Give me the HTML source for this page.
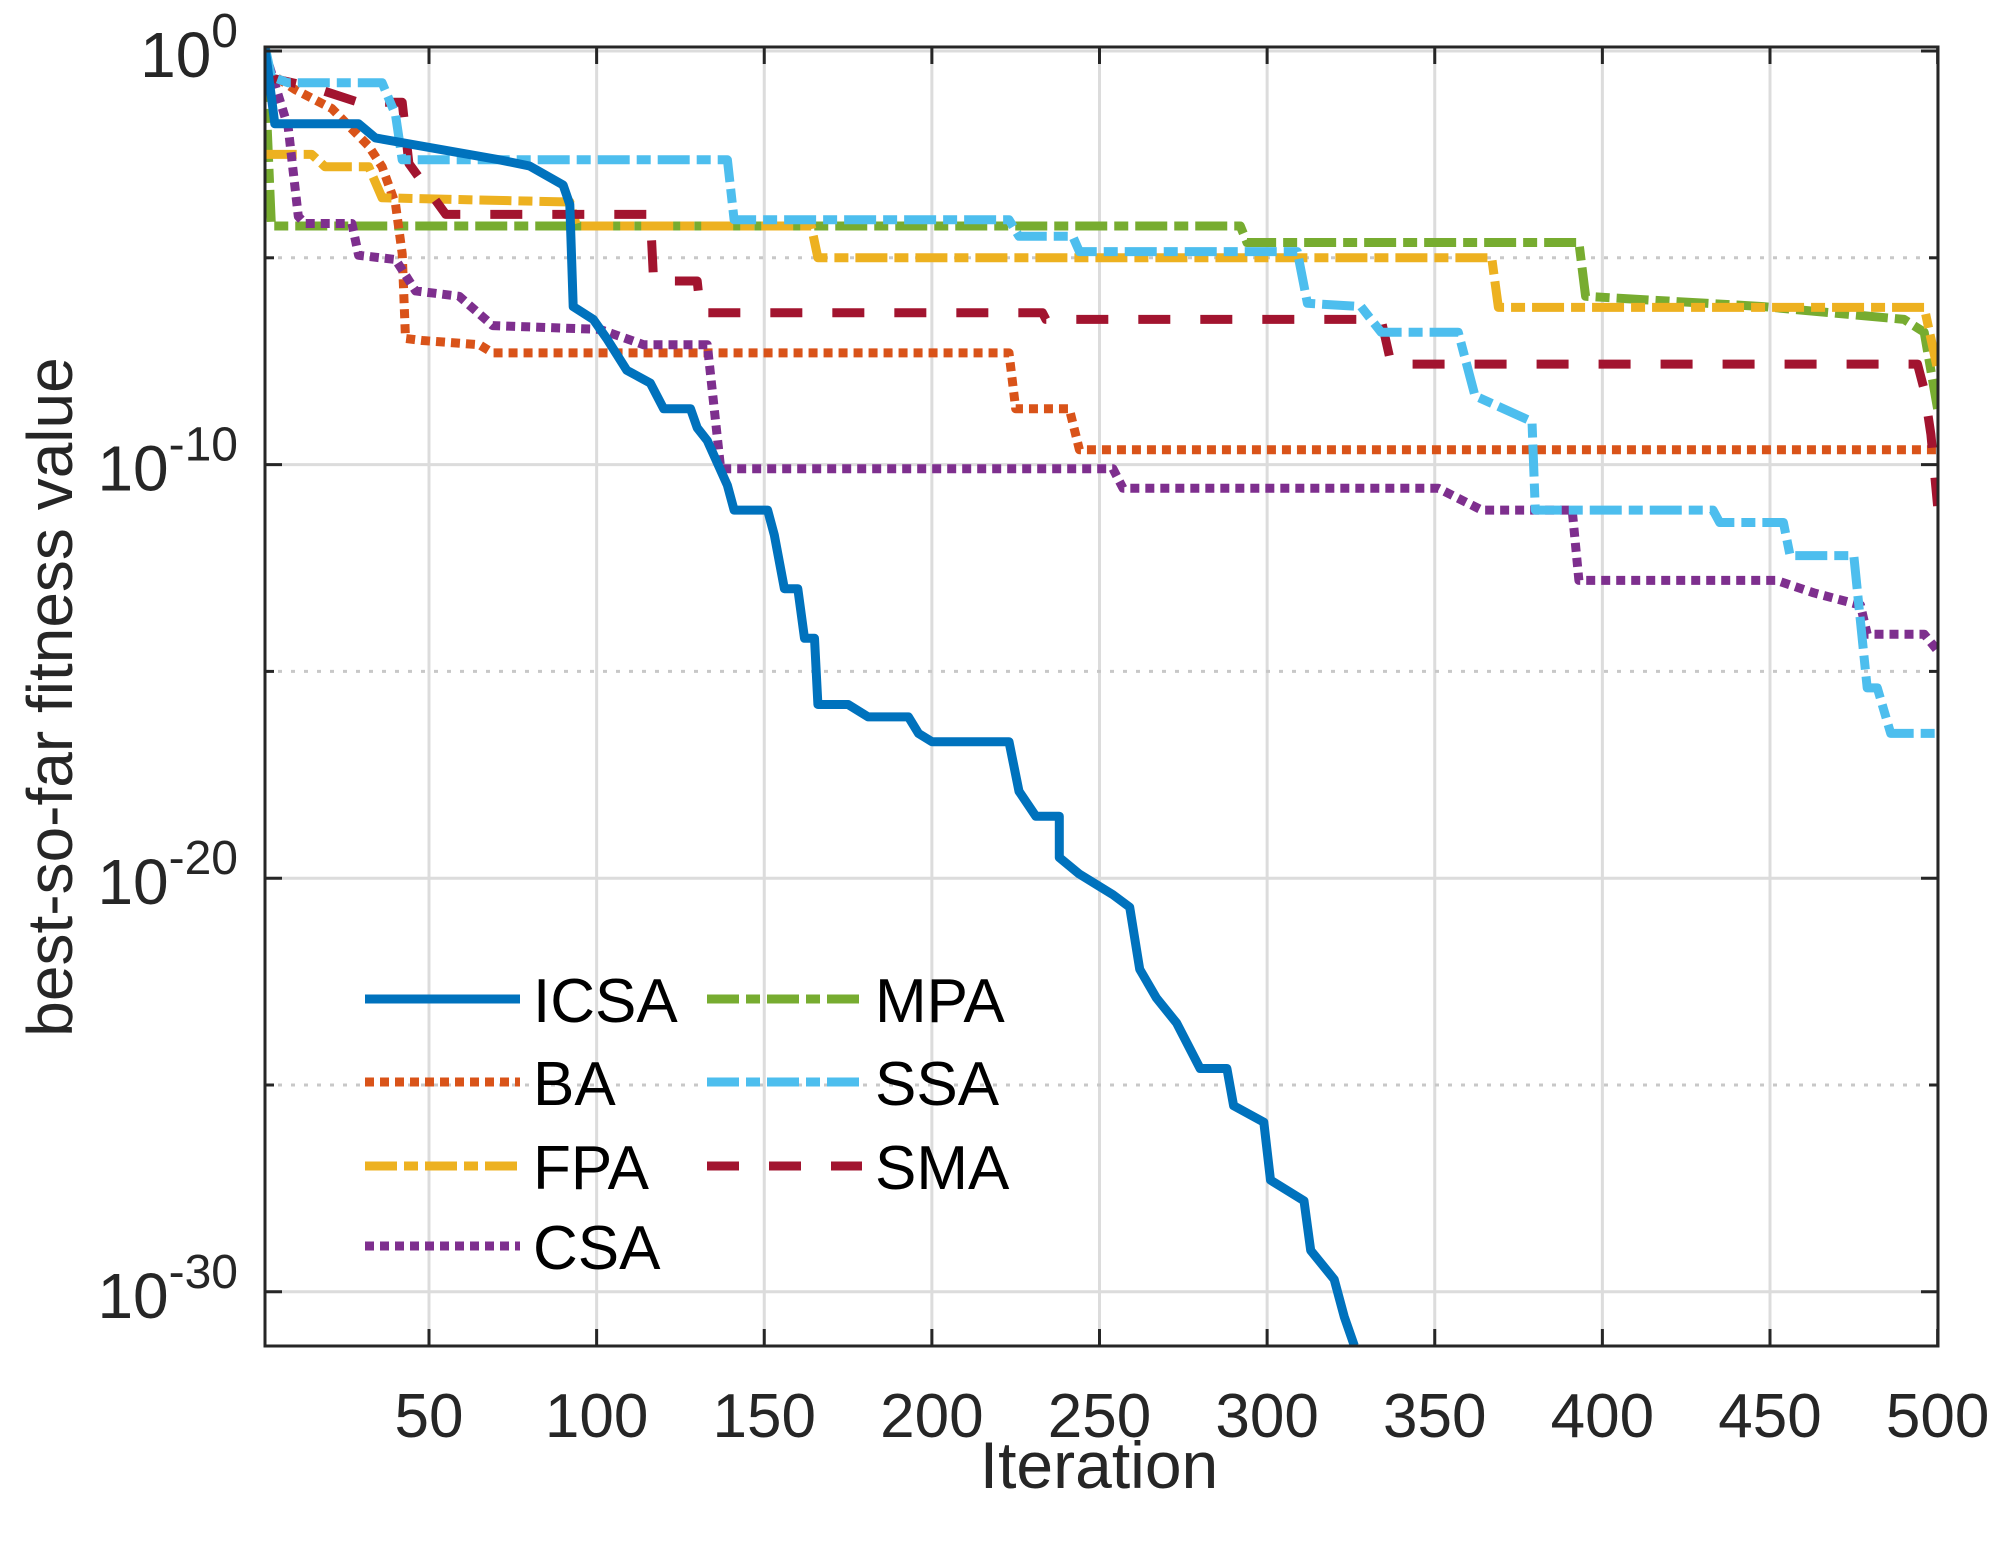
<!DOCTYPE html>
<html><head><meta charset="utf-8"><style>
html,body{margin:0;padding:0;background:#fff;}
svg{display:block;font-family:"Liberation Sans",Arial,sans-serif;}
</style></head><body>
<svg id="chart" width="2004" height="1548" viewBox="0 0 2004 1548" xmlns="http://www.w3.org/2000/svg">
<defs><clipPath id="clip"><rect x="265" y="47" width="1673" height="1299"/></clipPath></defs>
<rect x="0" y="0" width="2004" height="1548" fill="#fff"/>
<g id="grid"></g>
<g id="series" clip-path="url(#clip)"></g>
<g id="axes"></g>
<g id="legend"></g>
</svg>
<script>
const xTicks=[50,100,150,200,250,300,350,400,450,500];
const yMajor=[0,-10,-20,-30];
const yMinor=[-5,-15,-25];
const icsaIter=[1,4,29,34,71,80,90,92,93,99,103,109,116,120,128,130,133,139,141,151,153,156,160,162,165,166,175,181,193,196,200,223,226,231,238,238,244,254,259,262,267,273,280,288,290,299,301,311,313,320,323,326];
const icsaLog=[0.15,-1.76,-1.76,-2.1,-2.63,-2.78,-3.24,-3.71,-6.18,-6.49,-6.95,-7.72,-8.03,-8.65,-8.65,-9.11,-9.42,-10.5,-11.1,-11.1,-11.7,-13.0,-13.0,-14.2,-14.2,-15.8,-15.8,-16.1,-16.1,-16.5,-16.7,-16.7,-17.9,-18.5,-18.5,-19.5,-19.9,-20.4,-20.7,-22.2,-22.9,-23.5,-24.6,-24.6,-25.5,-25.9,-27.3,-27.8,-29.0,-29.7,-30.6,-31.3];
const baIter=[1,10,21,32,36,40,42,43,48,65,69,223,225,241,244,500];
const baLog=[-0.46,-0.93,-1.39,-2.3,-2.8,-3.7,-4.9,-6.95,-7.0,-7.1,-7.3,-7.3,-8.65,-8.65,-9.64,-9.64];
const fpaIter=[1,15,19,32,36,92,94,164,166,367,369,496,500];
const fpaLog=[-2.5,-2.5,-2.8,-2.8,-3.55,-3.65,-4.23,-4.23,-5.0,-5.0,-6.2,-6.2,-7.7];
const mpaIter=[1,3,292,294,393,395,448,490,496,500];
const mpaLog=[-0.46,-4.23,-4.23,-4.63,-4.63,-5.93,-6.18,-6.49,-6.8,-8.65];
const ssaIter=[1,3,8,36,40,42,139,141,223,226,242,244,309,312,328,334,357,362,379,380,433,435,454,456,475,479,482,486,500];
const ssaLog=[0.15,-0.62,-0.77,-0.77,-1.54,-2.63,-2.63,-4.08,-4.08,-4.48,-4.48,-4.85,-4.85,-6.1,-6.18,-6.8,-6.8,-8.34,-8.96,-11.1,-11.1,-11.4,-11.4,-12.2,-12.2,-15.4,-15.4,-16.5,-16.5];
const smaIter=[1,15,29,42,44,55,116,117,130,131,233,234,334,337,494,496,498,500];
const smaLog=[-0.62,-0.87,-1.24,-1.24,-2.72,-3.95,-3.95,-5.56,-5.56,-6.33,-6.33,-6.49,-6.49,-7.57,-7.57,-8.19,-9.27,-11.0];
const csaIter=[1,8,11,13,27,29,40,46,59,69,101,114,133,137,254,257,351,364,391,393,452,463,477,479,496,500];
const csaLog=[0,-1.85,-4.0,-4.17,-4.17,-4.94,-5.04,-5.8,-5.93,-6.64,-6.73,-7.1,-7.1,-10.1,-10.1,-10.57,-10.57,-11.1,-11.1,-12.8,-12.8,-13.1,-13.4,-14.1,-14.1,-14.5];

const NS="http://www.w3.org/2000/svg";
const L=265,R=1938,T=47,B=1346;
function xs(v){return 429+(v-50)*3.3525;}
function ys(e){return 51-41.36*e;}
function mk(tag,attrs,parent){const el=document.createElementNS(NS,tag);for(const k in attrs)el.setAttribute(k,attrs[k]);parent.appendChild(el);return el;}
const grid=document.getElementById('grid'),axes=document.getElementById('axes'),ser=document.getElementById('series'),leg=document.getElementById('legend');

xTicks.forEach(v=>{
  const g=mk('line',{x1:xs(v),x2:xs(v),y1:T,y2:B,stroke:'#dcdcdc','stroke-width':3},grid);
  
  
  const t1=mk('line',{x1:xs(v),x2:xs(v),y1:B,y2:B-17,stroke:'#262626','stroke-width':3},axes);
  
  
  const t2=mk('line',{x1:xs(v),x2:xs(v),y1:T,y2:T+17,stroke:'#262626','stroke-width':3},axes);
  
  
  const lb=mk('text',{x:xs(v),y:1437,'text-anchor':'middle','font-size':62,fill:'#262626'},axes);
  lb.textContent=v;
  
  
});
yMinor.forEach(e=>{
  const g=mk('line',{x1:L,x2:R,y1:ys(e),y2:ys(e),stroke:'#c8c8c8','stroke-width':3,'stroke-dasharray':'4 9'},grid);
  
  
  const t=mk('line',{x1:L,x2:L+9,y1:ys(e),y2:ys(e),stroke:'#262626','stroke-width':3},axes);
  
  
  const t2=mk('line',{x1:R,x2:R-9,y1:ys(e),y2:ys(e),stroke:'#262626','stroke-width':3},axes);
  
  
});
yMajor.forEach(e=>{
  const g=mk('line',{x1:L,x2:R,y1:ys(e),y2:ys(e),stroke:'#dcdcdc','stroke-width':3},grid);
  
  
  const t=mk('line',{x1:L,x2:L+17,y1:ys(e),y2:ys(e),stroke:'#262626','stroke-width':3},axes);
  
  
  const t2=mk('line',{x1:R,x2:R-17,y1:ys(e),y2:ys(e),stroke:'#262626','stroke-width':3},axes);
  
  
  const lb=mk('text',{x:238,y:ys(e)+26,'text-anchor':'end','font-size':64,fill:'#262626'},axes);
  
  
  const base=document.createElementNS(NS,'tspan');base.textContent='10';lb.appendChild(base);
  const sup=document.createElementNS(NS,'tspan');sup.setAttribute('dy','-30');sup.setAttribute('font-size','48');sup.textContent=String(e);lb.appendChild(sup);
});
const box=mk('rect',{x:L,y:T,width:R-L,height:B-T,fill:'none',stroke:'#262626','stroke-width':3},axes);


const xt=mk('text',{x:1099,y:1488,'text-anchor':'middle','font-size':66,fill:'#262626'},axes);
xt.textContent='Iteration';


const yt=mk('text',{x:0,y:0,'text-anchor':'middle','font-size':64,fill:'#262626',transform:'translate(72,697) rotate(-90)'},axes);
yt.textContent='best-so-far fitness value';



const seriesDefs=[
 ['ICSA',icsaIter,icsaLog,'#0072BD','none'],
 ['BA',baIter,baLog,'#D95319','9 6'],
 ['FPA',fpaIter,fpaLog,'#EDB120','32 7 14 7'],
 ['CSA',csaIter,csaLog,'#7E2F8E','9 6'],
 ['MPA',mpaIter,mpaLog,'#77AC30','32 7 14 7'],
 ['SSA',ssaIter,ssaLog,'#4DBEEE','32 7 14 7'],
 ['SMA',smaIter,smaLog,'#A2142F','32 30']
];
const drawOrder=[4,1,2,3,6,5,0];
drawOrder.forEach(i=>{
  const [name,it,lg,col,dash]=seriesDefs[i];
  const pts=it.map((v,k)=>xs(v).toFixed(1)+','+ys(lg[k]).toFixed(1)).join(' ');
  const pl=mk('polyline',{points:pts,fill:'none',stroke:col,'stroke-width':9,'stroke-dasharray':dash,'stroke-linejoin':'round'},ser);
  
  
});
const legPos=[[365,999],[365,1082],[365,1166],[365,1246],[707,999],[707,1082],[707,1166]];
seriesDefs.forEach((s,i)=>{
  const [x,y]=legPos[i];
  const ln=mk('line',{x1:x,x2:x+155,y1:y,y2:y,stroke:s[3],'stroke-width':9,'stroke-dasharray':s[4]},leg);
  
  
  const tx=mk('text',{x:x+168,y:y+23,'font-size':62,fill:'#000'},leg);
  tx.textContent=s[0];
  
  
});
</script>
</body></html>
